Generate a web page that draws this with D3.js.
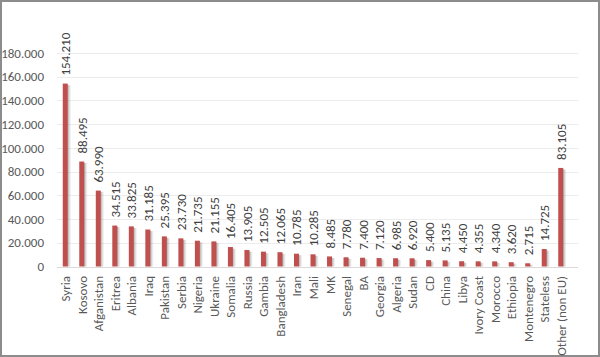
<!DOCTYPE html>
<html><head><meta charset="utf-8">
<script src="https://cdn.jsdelivr.net/npm/d3@7/dist/d3.min.js"></script>
<style>
html,body{margin:0;padding:0;background:#fff;}
svg{display:block;}
text{font-family:Calibri,"Liberation Sans Narrow","Open Sans",Arial,sans-serif;}
</style></head><body>
<svg id="c" width="600" height="357"></svg>
<script>
const categories = ["Syria","Kosovo","Afganistan","Eritrea","Albania","Iraq","Pakistan","Serbia","Nigeria","Ukraine","Somalia","Russia","Gambia","Bangladesh","Iran","Mali","MK","Senegal","BA","Georgia","Algeria","Sudan","CD","China","Libya","Ivory Coast","Morocco","Ethiopia","Montenegro","Stateless","Other (non EU)"];
const values = [154210,88495,63990,34515,33825,31185,25395,23730,21735,21155,16405,13905,12505,12065,10785,10285,8485,7780,7400,7120,6985,6920,5400,5135,4450,4355,4340,3620,2715,14725,83105];
const yTicks = [0,20000,40000,60000,80000,100000,120000,140000,160000,180000];

const svg = d3.select("#c");
const W = 600, H = 357;
svg.append("rect").attr("x",1).attr("y",1).attr("width",W-2).attr("height",H-2)
  .attr("fill","#fff").attr("stroke","#8c8c8c").attr("stroke-width",2);

const fmt = v => d3.format(",")(v).replace(/,/g,".");
const y = d3.scaleLinear().domain([0,180000]).range([266.5,53]);
const x = d3.scaleBand().domain(categories).range([57,569]).paddingInner(0).paddingOuter(0);

const defs = svg.append("defs");
const g = defs.append("linearGradient").attr("id","sh").attr("x1","0").attr("x2","1").attr("y1","0").attr("y2","0");
g.append("stop").attr("offset","0").attr("stop-color","#555").attr("stop-opacity",0.55);
g.append("stop").attr("offset","1").attr("stop-color","#999").attr("stop-opacity",0);

// grid
svg.append("g").selectAll("line").data(yTicks).join("line")
  .attr("x1",57).attr("x2",578)
  .attr("y1",d=>Math.round(y(d))+0.5).attr("y2",d=>Math.round(y(d))+0.5)
  .attr("stroke",d=>d===0?"#d9d9d9":"#ececec").attr("stroke-width",1);

// y axis labels
const yAxis = d3.axisLeft(y).tickValues(yTicks).tickFormat(fmt).tickSize(0).tickPadding(0);
const ya = svg.append("g").attr("transform","translate(44,0)").call(yAxis);
ya.select(".domain").remove();
ya.selectAll("text").attr("font-size",13).attr("fill","#595959");

const bw = 5;
const cx = d => x(d) + x.bandwidth()/2;
// shadows
svg.append("g").selectAll("rect").data(categories).join("rect")
  .attr("x",d=>cx(d)+bw/2-0.5).attr("width",4)
  .attr("y",(d,i)=>y(values[i])+1.5).attr("height",(d,i)=>y(0)-y(values[i])-1.5)
  .attr("fill","url(#sh)");
// bars
svg.append("g").selectAll("rect").data(categories).join("rect")
  .attr("x",d=>cx(d)-bw/2).attr("width",bw)
  .attr("y",(d,i)=>y(values[i])).attr("height",(d,i)=>y(0)-y(values[i]))
  .attr("fill","#c0504d");

// value labels
svg.append("g").selectAll("text").data(categories).join("text")
  .attr("transform",(d,i)=>`translate(${cx(d)+5},${y(values[i])-8}) rotate(-90)`)
  .attr("font-size",13).attr("fill","#404040").attr("text-anchor","start")
  .text((d,i)=>fmt(values[i]));

// category labels
svg.append("g").selectAll("text").data(categories).join("text")
  .attr("transform",d=>`translate(${cx(d)+5},${276}) rotate(-90)`)
  .attr("font-size",13).attr("fill","#595959").attr("text-anchor","end")
  .text(d=>d);
</script>
</body></html>
